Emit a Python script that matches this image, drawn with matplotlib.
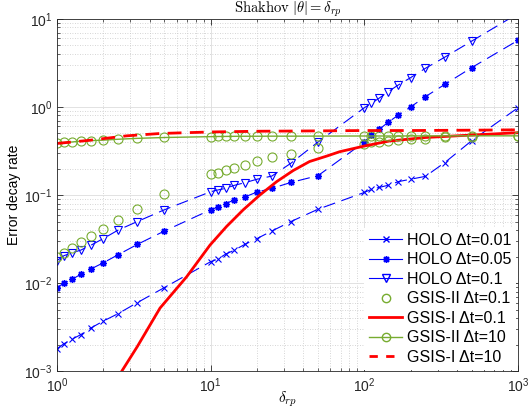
import numpy as np
import matplotlib
matplotlib.use("Agg")
import matplotlib.pyplot as plt
from matplotlib.lines import Line2D

plt.rcParams["font.family"] = ["Liberation Sans", "DejaVu Sans"]
plt.rcParams["mathtext.fontset"] = "custom"
plt.rcParams["mathtext.rm"] = "Liberation Sans"
plt.rcParams["mathtext.it"] = "Liberation Sans:italic"

# delta_rp grid (1/Kn)
delta = [1, 1.111, 1.25, 1.429, 1.667, 2, 2.5, 3.333, 5,
         10, 11.11, 12.5, 14.29, 16.67, 20, 25, 33.33, 50,
         100, 111.1, 125, 142.9, 166.7, 200, 250, 333.3, 500, 1000]

holo_001 = [1.8e-3, 2.05e-3, 2.3e-3, 2.6e-3, 3.1e-3, 3.7e-3, 4.5e-3, 6.0e-3, 8.9e-3,
            1.75e-2, 1.87e-2, 2.13e-2, 2.37e-2, 2.75e-2, 3.2e-2, 3.9e-2, 5.0e-2, 6.9e-2,
            0.107, 0.116, 0.122, 0.129, 0.142, 0.151, 0.163, 0.233, 0.414, 0.98]
holo_005 = [8.9e-3, 1.0e-2, 1.1e-2, 1.26e-2, 1.45e-2, 1.7e-2, 2.1e-2, 2.75e-2, 3.9e-2,
            6.8e-2, 7.3e-2, 8.0e-2, 8.8e-2, 9.5e-2, 0.108, 0.119, 0.139, 0.166,
            0.40, 0.48, 0.557, 0.67, 0.81, 1.0, 1.31, 1.80, 2.8, 5.7]
holo_01 = [1.8e-2, 2.05e-2, 2.2e-2, 2.37e-2, 2.7e-2, 3.2e-2, 4.0e-2, 5.0e-2, 6.8e-2,
           0.109, 0.114, 0.119, 0.129, 0.138, 0.151, 0.164, 0.23, 0.40,
           0.98, 1.1, 1.26, 1.49, 1.78, 2.15, 2.75, 3.67, 5.6, 11.5]
gsis2_01 = [2.0e-2, 2.2e-2, 2.5e-2, 2.9e-2, 3.4e-2, 4.1e-2, 5.2e-2, 6.9e-2, 0.102,
            0.172, 0.18, 0.19, 0.205, 0.222, 0.245, 0.267, 0.295, 0.345,
            0.38, 0.40, 0.40, 0.41, 0.42, 0.43, 0.435, 0.45, 0.46, 0.465]
gsis2_10 = [0.39, 0.395, 0.40, 0.41, 0.415, 0.42, 0.43, 0.44, 0.45,
            0.46, 0.462, 0.463, 0.464, 0.465, 0.465, 0.466, 0.466, 0.467,
            0.468, 0.468, 0.468, 0.468, 0.468, 0.469, 0.469, 0.47, 0.47, 0.47]

# GSIS-I curves (smooth lines, own sampling)
d_gsis1_01 = [2, 2.64, 3.33, 4.68, 6.98, 9.9, 12.7, 16.3, 20.9, 26.9, 34.5, 44,
              57, 69, 100, 145, 250, 500, 1000]
gsis1_01 = [4.5e-4, 1e-3, 1.9e-3, 5.2e-3, 1.18e-2, 2.7e-2, 4.4e-2, 6.8e-2, 0.1,
            0.142, 0.19, 0.24, 0.277, 0.31, 0.36, 0.41, 0.45, 0.48, 0.51]
d_gsis1_10 = [1, 1.6, 2.84, 4.7, 10, 20, 50, 100, 200, 500, 1000]
gsis1_10 = [0.385, 0.417, 0.47, 0.50, 0.52, 0.53, 0.535, 0.54, 0.54, 0.545, 0.55]

labels = ["HOLO Δt=0.01", "HOLO Δt=0.05", "HOLO Δt=0.1", "GSIS-II Δt=0.1",
          "GSIS-I Δt=0.1", "GSIS-II Δt=10", "GSIS-I Δt=10"]

blue = "#0000FF"
green = "#77AC30"
red = "#FF0000"
asterisk = (8, 2, 0)

fig = plt.figure(figsize=(5.28, 4.11), dpi=100)
ax = fig.add_axes([0.108, 0.097, 0.873, 0.857])

dash = (0, (11, 6))
ax.plot(delta, holo_001, color=blue, linestyle=dash, linewidth=0.8,
        marker="x", markersize=4.5, markeredgewidth=0.8)
ax.plot(delta, holo_005, color=blue, linestyle=dash, linewidth=0.8,
        marker=asterisk, markersize=5, markeredgewidth=1.0)
ax.plot(delta, holo_01, color=blue, linestyle=dash, linewidth=0.8,
        marker="v", markersize=6, markerfacecolor="none", markeredgewidth=0.8)
ax.plot(delta, gsis2_01, color=green, linestyle="none",
        marker="o", markersize=6.5, markerfacecolor="none", markeredgewidth=0.8)
ax.plot(d_gsis1_01, gsis1_01, color=red, linewidth=2)
ax.plot(delta, gsis2_10, color=green, linewidth=1,
        marker="o", markersize=6.5, markerfacecolor="none", markeredgewidth=0.8)
ax.plot(d_gsis1_10, gsis1_10, color=red, linewidth=2, linestyle=(0, (5, 3)))

ax.set_xscale("log")
ax.set_yscale("log")
ax.set_xlim(1, 1000)
ax.set_ylim(1e-3, 10)

ax.grid(True, which="major", color="#dddddd", linewidth=0.6, linestyle="-")
ax.grid(True, which="minor", color="#c8c8c8", linewidth=0.6, linestyle=(0, (1, 2)))
ax.set_axisbelow(True)
ax.tick_params(which="both", direction="in", top=True, right=True,
               labelsize=10, colors="#262626")
ax.tick_params(which="major", length=4, width=0.6)
ax.tick_params(which="minor", length=2.2, width=0.5)
for s in ax.spines.values():
    s.set_color("#262626")
    s.set_linewidth(0.6)

ax.set_title(r"$\mathrm{Shakhov}\ |\theta| = \delta_{rp}$", fontsize=10.5,
             math_fontfamily="cm", pad=2)
ax.set_xlabel(r"$\delta_{rp}$", fontsize=11, math_fontfamily="cm", labelpad=-4)
ax.set_ylabel("Error decay rate", fontsize=10, labelpad=2)

handles = [
    Line2D([], [], color=blue, linewidth=0.8, marker="x", markersize=4.5),
    Line2D([], [], color=blue, linewidth=0.8, marker=asterisk, markersize=5, markeredgewidth=1.0),
    Line2D([], [], color=blue, linewidth=0.8, marker="v", markersize=6, markerfacecolor="none"),
    Line2D([], [], color=green, linestyle="none", marker="o", markersize=6, markerfacecolor="none"),
    Line2D([], [], color=red, linewidth=2),
    Line2D([], [], color=green, linewidth=1, marker="o", markersize=6, markerfacecolor="none"),
    Line2D([], [], color=red, linewidth=2, linestyle=(0, (3, 3))),
]
leg = ax.legend(handles, labels, loc="lower right", fontsize=11.5, frameon=True,
                fancybox=False, framealpha=1, edgecolor="white", borderaxespad=0.1,
                handlelength=2.1, handletextpad=0.3, labelspacing=0.28,
                borderpad=0.3)
leg.get_frame().set_linewidth(0)

fig.savefig("out.png", dpi=100)
